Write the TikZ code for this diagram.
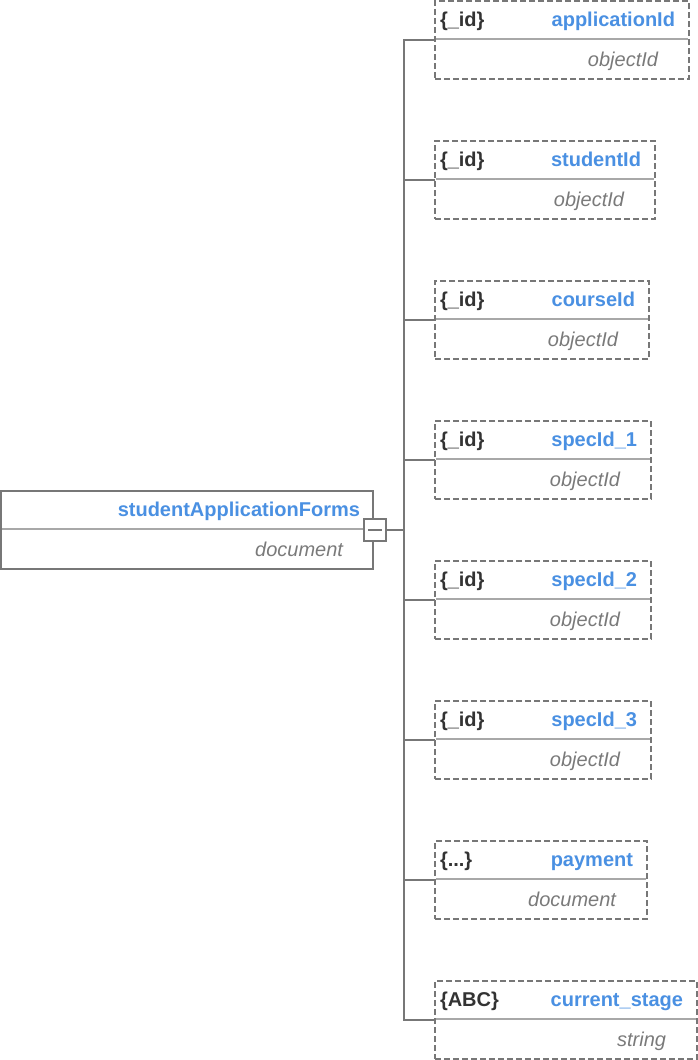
\documentclass[tikz,border=0pt]{standalone}
\usepackage{fontspec}
\setmainfont{Liberation Sans}
\definecolor{fieldblue}{HTML}{4A90E2}
\definecolor{keydark}{HTML}{333333}
\definecolor{typegray}{HTML}{7A7A7A}
\definecolor{edgegray}{HTML}{777777}
\definecolor{rulegray}{HTML}{A8A8A8}
\tikzset{
  every node/.style={font=\fontsize{20}{23}\selectfont, inner sep=0pt, outer sep=0pt},
  fieldbox/.style={draw=edgegray, line width=2pt, dash pattern=on 6pt off 3pt,
    minimum height=78pt, anchor=north west, rectangle},
  rootbox/.style={draw=edgegray, line width=2pt, minimum height=78pt, anchor=north west, rectangle},
  divider/.style={draw=rulegray, line width=2pt},
  keytext/.style={text=keydark, font=\fontsize{20}{23}\selectfont\bfseries, anchor=base west},
  nametext/.style={text=fieldblue, font=\fontsize{20}{23}\selectfont\bfseries, anchor=base east},
  typetext/.style={text=typegray, font=\fontsize{20}{23}\selectfont\itshape, anchor=base east},
  link/.style={draw=edgegray, line width=2pt},
  togglebox/.style={draw=edgegray, line width=2pt, fill=white, minimum width=22pt, minimum height=22pt, rectangle}
}
\begin{document}
\begin{tikzpicture}[x=1pt, y=-1pt]
\useasboundingbox (0,0) rectangle (698,1060);

% root document
\node[rootbox, minimum width=372pt] (root) at (1,491) {};
\draw[divider] (2,529) -- (372,529);
\node[nametext] (rootn) at (360,516) {studentApplicationForms};
\node[typetext] (roott) at (343,556) {document};

% collapse toggle
\node[togglebox] (toggle) at (375,530) {};
\draw[edgegray, line width=1.6pt] (368,530) -- (382,530);
\coordinate (trunk) at (404,530);
\draw[link] (toggle.east) -- (trunk);

% child fields
\foreach \i/\k/\n/\t/\w in {
  0/{\{\_id\}}/applicationId/objectId/254,
  1/{\{\_id\}}/studentId/objectId/220,
  2/{\{\_id\}}/courseId/objectId/214,
  3/{\{\_id\}}/specId\_1/objectId/216,
  4/{\{\_id\}}/specId\_2/objectId/216,
  5/{\{\_id\}}/specId\_3/objectId/216,
  6/{\{...\}}/payment/document/212,
  7/{\{ABC\}}/current\_stage/string/262} {
  \pgfmathsetmacro{\top}{1+140*\i}
  \pgfmathsetmacro{\rx}{435+\w}
  \node[fieldbox, minimum width=\w pt] (c\i) at (435,\top) {};
  \draw[divider] (436,\top+38) -- (\rx-1,\top+38);
  \node[keytext] (c\i k) at (440,\top+25) {\k};
  \node[nametext] (c\i n) at (\rx-14,\top+25) {\n};
  \node[typetext] (c\i t) at (\rx-31,\top+65) {\t};
  \draw[link] (trunk) |- (c\i.west);
}
\end{tikzpicture}
\end{document}
